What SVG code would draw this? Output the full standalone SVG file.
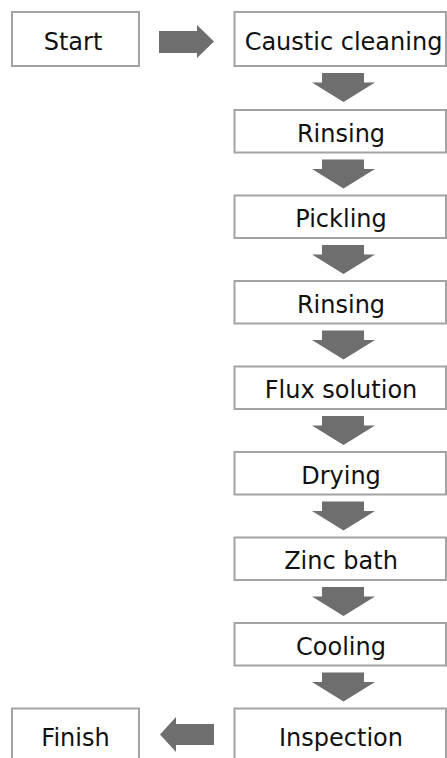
<svg xmlns="http://www.w3.org/2000/svg" xmlns:xlink="http://www.w3.org/1999/xlink" width="447" height="758" viewBox="0 0 447 758">
<style>
.box{fill:#ffffff;stroke:#a3a3a3;stroke-width:2}
.lbl{font-family:"DejaVu Sans",sans-serif;font-size:24px;fill:#111111;text-anchor:middle}
.arr{fill:#6e6e6e}
</style>
<defs>
<path id="down" class="arr" d="M322,0 H364 V9.5 H375 L343.5,29 L312,9.5 H322 Z"/>
</defs>
<rect width="447" height="758" fill="#ffffff"/>
<g id="connectors">
<path class="arr" d="M159,31 H197 V25 L214,41.5 L197,58 V53 H159 Z"/>
<use xlink:href="#down" transform="translate(0,73)"/>
<use xlink:href="#down" transform="translate(0,159.5)"/>
<use xlink:href="#down" transform="translate(0,245)"/>
<use xlink:href="#down" transform="translate(0,330.5)"/>
<use xlink:href="#down" transform="translate(0,416)"/>
<use xlink:href="#down" transform="translate(0,501.5)"/>
<use xlink:href="#down" transform="translate(0,587)"/>
<use xlink:href="#down" transform="translate(0,672.5)"/>
<path class="arr" d="M214,724 H176 V717 L160,734.5 L176,752 V745 H214 Z"/>
</g>
<g id="start"><rect class="box" x="12" y="12" width="127" height="54"/><text class="lbl" x="73" y="50">Start</text></g>
<g id="caustic"><rect class="box" x="234.5" y="12" width="211.5" height="54"/><text class="lbl" x="343.5" y="50">Caustic cleaning</text></g>
<g id="rinsing1"><rect class="box" x="234.5" y="110" width="211.5" height="42.5"/><text class="lbl" x="341" y="141.5">Rinsing</text></g>
<g id="pickling"><rect class="box" x="234.5" y="195.5" width="211.5" height="42.5"/><text class="lbl" x="341" y="227">Pickling</text></g>
<g id="rinsing2"><rect class="box" x="234.5" y="281" width="211.5" height="42.5"/><text class="lbl" x="341" y="312.5">Rinsing</text></g>
<g id="flux"><rect class="box" x="234.5" y="366.5" width="211.5" height="42.5"/><text class="lbl" x="341" y="398">Flux solution</text></g>
<g id="drying"><rect class="box" x="234.5" y="452" width="211.5" height="42.5"/><text class="lbl" x="341" y="483.5">Drying</text></g>
<g id="zinc"><rect class="box" x="234.5" y="537.5" width="211.5" height="42.5"/><text class="lbl" x="341" y="569">Zinc bath</text></g>
<g id="cooling"><rect class="box" x="234.5" y="623" width="211.5" height="42.5"/><text class="lbl" x="341" y="654.5">Cooling</text></g>
<g id="inspection"><rect class="box" x="234.5" y="708.5" width="211.5" height="55"/><text class="lbl" x="341" y="746">Inspection</text></g>
<g id="finish"><rect class="box" x="12" y="708.5" width="127" height="55"/><text class="lbl" x="75.5" y="746">Finish</text></g>
</svg>
